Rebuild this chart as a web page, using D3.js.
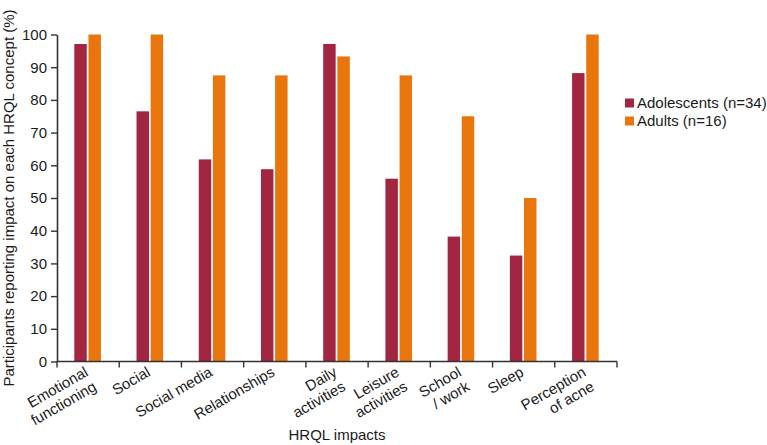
<!DOCTYPE html>
<html>
<head>
<meta charset="utf-8">
<script src="https://cdn.jsdelivr.net/npm/d3@7"></script>
<style>
  html, body { margin: 0; padding: 0; background: #fff; }
  svg { display: block; font-family: "Liberation Sans", Arial, Helvetica, sans-serif; }
</style>
</head>
<body>
<svg id="chart" width="767" height="445"></svg>
<script>
const categories = ["Emotional\nfunctioning", "Social", "Social media", "Relationships", "Daily\nactivities", "Leisure\nactivities", "School\n/ work", "Sleep", "Perception\nof acne"];
const seriesNames = ["Adolescents (n=34)", "Adults (n=16)"];
const adolescents = [97.1, 76.5, 61.8, 58.8, 97.1, 55.9, 38.2, 32.4, 88.2];
const adults = [100, 100, 87.5, 87.5, 93.3, 87.5, 75, 50, 100];
const yTicks = [0, 10, 20, 30, 40, 50, 60, 70, 80, 90, 100];
const colors = ["#A22541", "#E8760C"];
const yTitle = "Participants reporting impact on each HRQL concept (%)";
const xTitle = "HRQL impacts";

(function () {
const svg = d3.select("#chart");
const mLeft = 57, mRight = 617, mTop = 34.5, mBottom = 361.5;
const textColor = "#1a1a1a";
const axisColor = "#333";

const x0 = d3.scaleBand().domain(categories).range([mLeft, mRight]).paddingInner(0).paddingOuter(0);
const bw = x0.bandwidth();
const x1 = d3.scaleBand().domain(seriesNames).range([bw / 2 - 13.8, bw / 2 + 12.8]).paddingInner(0.12);
const y = d3.scaleLinear().domain([0, 100]).range([mBottom, mTop]);

const data = categories.map((c, i) => ({ cat: c, values: [adolescents[i], adults[i]] }));

// bars
const groups = svg.append("g").selectAll("g").data(data).join("g")
  .attr("transform", d => `translate(${x0(d.cat)},0)`);
groups.selectAll("rect").data(d => d.values.map((v, j) => ({ s: seriesNames[j], v, j })))
  .join("rect")
  .attr("x", d => x1(d.s))
  .attr("width", x1.bandwidth())
  .attr("y", d => y(d.v))
  .attr("height", d => y(0) - y(d.v))
  .attr("fill", d => colors[d.j]);

// y axis
const yAxis = svg.append("g").attr("transform", `translate(${mLeft},0)`)
  .call(d3.axisLeft(y).tickValues(yTicks).tickSize(6).tickPadding(4).tickSizeOuter(0));
yAxis.select(".domain").attr("stroke", axisColor).attr("stroke-width", 1.6);
yAxis.selectAll(".tick line").attr("stroke", axisColor).attr("stroke-width", 1.4);
yAxis.selectAll(".tick text").attr("font-size", 15).attr("fill", textColor)
  .attr("font-family", "'Liberation Sans', Arial, sans-serif");

// x axis (ticks at band boundaries)
const boundaries = categories.map(c => x0(c)).concat([mRight]);
const xAxisG = svg.append("g");
xAxisG.append("line").attr("x1", mLeft).attr("x2", mRight).attr("y1", mBottom).attr("y2", mBottom)
  .attr("stroke", axisColor).attr("stroke-width", 1.6);
xAxisG.selectAll("line.tk").data(boundaries).join("line").attr("class", "tk")
  .attr("x1", d => d).attr("x2", d => d).attr("y1", mBottom).attr("y2", mBottom + 6)
  .attr("stroke", axisColor).attr("stroke-width", 1.4);

// x tick labels
const labels = svg.append("g").selectAll("text").data(categories).join("text")
  .attr("transform", d => `translate(${x0(d) + bw / 2 + 1},${mBottom + 13.5}) rotate(-30)`)
  .attr("text-anchor", "end")
  .attr("font-size", 15)
  .attr("fill", textColor);
labels.each(function(d) {
  const lines = d.split("\n");
  d3.select(this).selectAll("tspan").data(lines).join("tspan")
    .attr("x", 0)
    .attr("dy", (l, i) => i === 0 ? 0 : "1.12em")
    .text(l => l);
});

// axis titles
svg.append("text")
  .attr("transform", `translate(13.5,${(mTop + mBottom) / 2}) rotate(-90)`)
  .attr("text-anchor", "middle")
  .attr("font-size", 15)
  .attr("fill", textColor)
  .text(yTitle);

svg.append("text")
  .attr("x", (mLeft + mRight) / 2)
  .attr("y", 440)
  .attr("text-anchor", "middle")
  .attr("font-size", 15)
  .attr("fill", textColor)
  .text(xTitle);

// legend
const legend = svg.append("g").selectAll("g").data(seriesNames).join("g")
  .attr("transform", (d, i) => `translate(625,${103 + i * 18})`);
legend.append("rect").attr("x", 0).attr("y", -4.5).attr("width", 9).attr("height", 9)
  .attr("fill", (d, i) => colors[i]);
legend.append("text").attr("x", 12).attr("y", 0).attr("dy", "0.35em")
  .attr("font-size", 15).attr("fill", textColor).text(d => d);
})();
</script>
</body>
</html>
